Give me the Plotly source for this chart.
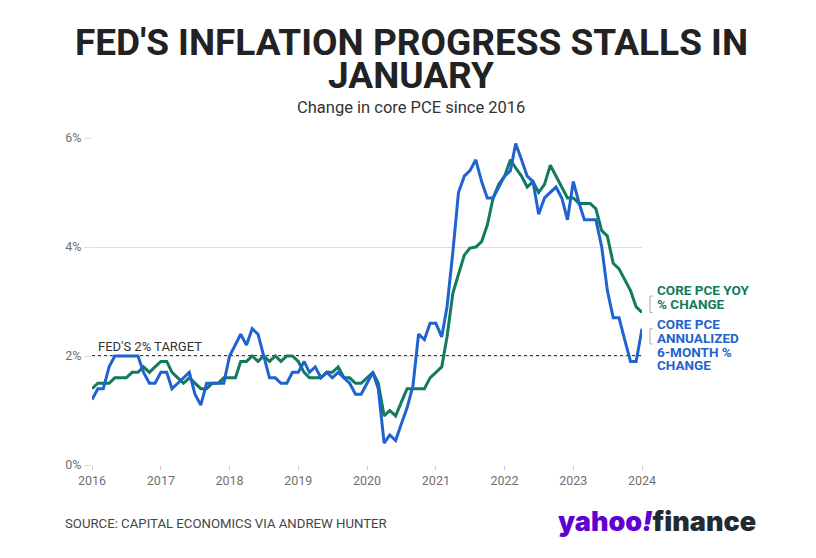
import pandas as pd
import plotly.graph_objects as go

# ---------------- data ----------------
months = pd.date_range("2016-01-01", periods=97, freq="MS")

core_pce_yoy = [
    1.4, 1.5, 1.5, 1.5, 1.6, 1.6, 1.6, 1.7, 1.7, 1.8, 1.7, 1.8,   # 2016
    1.9, 1.9, 1.7, 1.6, 1.5, 1.6, 1.5, 1.4, 1.4, 1.5, 1.5, 1.6,   # 2017
    1.6, 1.6, 1.9, 1.9, 2.0, 1.9, 2.0, 1.9, 2.0, 1.9, 2.0, 2.0,   # 2018
    1.9, 1.7, 1.6, 1.6, 1.6, 1.7, 1.7, 1.8, 1.6, 1.6, 1.5, 1.5,   # 2019
    1.6, 1.7, 1.5, 0.9, 1.0, 0.9, 1.15, 1.4, 1.4, 1.4, 1.4, 1.6,  # 2020
    1.7, 1.8, 2.35, 3.15, 3.5, 3.85, 3.98, 4.0, 4.1, 4.4, 4.9, 5.15,  # 2021
    5.3, 5.6, 5.45, 5.3, 5.1, 5.2, 5.0, 5.15, 5.5, 5.3, 5.1, 4.9,  # 2022
    4.9, 4.8, 4.8, 4.8, 4.7, 4.3, 4.2, 3.7, 3.6, 3.4, 3.2, 2.9,   # 2023
    2.8,                                                           # 2024
]

core_pce_6m_ann = [
    1.2, 1.4, 1.4, 1.8, 2.0, 2.0, 2.0, 2.0, 2.0, 1.7, 1.5, 1.5,   # 2016
    1.7, 1.7, 1.4, 1.5, 1.6, 1.7, 1.3, 1.1, 1.5, 1.5, 1.5, 1.5,   # 2017
    2.0, 2.2, 2.4, 2.2, 2.5, 2.4, 2.0, 1.6, 1.6, 1.5, 1.5, 1.7,   # 2018
    1.7, 1.9, 1.7, 1.8, 1.6, 1.7, 1.6, 1.7, 1.6, 1.5, 1.3, 1.3,   # 2019
    1.5, 1.7, 1.4, 0.4, 0.55, 0.45, 0.75, 1.05, 1.45, 2.4, 2.3, 2.6,  # 2020
    2.6, 2.35, 2.9, 3.9, 5.0, 5.3, 5.4, 5.6, 5.2, 4.9, 4.9, 5.1,  # 2021
    5.3, 5.4, 5.9, 5.6, 5.3, 5.2, 4.6, 4.9, 5.0, 5.1, 4.9, 4.5,   # 2022
    5.2, 4.8, 4.5, 4.5, 4.5, 4.0, 3.2, 2.7, 2.7, 2.3, 1.9, 1.9,   # 2023
    2.5,                                                           # 2024
]

fed_target = 2.0
y_ticks = [0, 2, 4, 6]
y_tick_labels = ["0%", "2%", "4%", "6%"]
x_tick_years = list(range(2016, 2025))

title_lines = ["FED'S INFLATION PROGRESS STALLS IN", "JANUARY"]
subtitle = "Change in core PCE since 2016"
yoy_label = ["CORE PCE YOY", "% CHANGE"]
ann_label = ["CORE PCE", "ANNUALIZED", "6-MONTH %", "CHANGE"]
target_label = "FED'S 2% TARGET"
source = "SOURCE: CAPITAL ECONOMICS VIA ANDREW HUNTER"

# ---------------- style ----------------
GREEN = "#137a5c"
BLUE = "#1f63d0"
FONT = "Roboto, Liberation Sans, sans-serif"

OFF = 8                      # page body margin offset
W, H = 816 - OFF, 558 - OFF
PL, PR, PT, PB = 92, 642, 138, 465      # plot box in screen pixels
L, T = PL - OFF, PT - OFF
PW, PH = PR - PL, PB - PT
R, B = W - L - PW, H - T - PH


def px(xs):
    return (xs - PL) / PW


def py(ys):
    return (PB - ys) / PH


fig = go.Figure()
fig.add_trace(go.Scatter(x=months, y=core_pce_yoy, mode="lines",
                         line=dict(color=GREEN, width=3), name="yoy",
                         hoverinfo="skip"))
fig.add_trace(go.Scatter(x=months, y=core_pce_6m_ann, mode="lines",
                         line=dict(color=BLUE, width=3), name="6m",
                         hoverinfo="skip"))

# Fed target line
fig.add_shape(type="line", xref="paper", x0=0, x1=1, yref="y",
              y0=fed_target, y1=fed_target,
              line=dict(color="#333333", width=1.8, dash="dot"), layer="below")

annotations = []
annotations.append(dict(text=target_label, xref="paper", x=px(96), yref="y",
                        y=fed_target, yanchor="bottom", xanchor="left", yshift=0,
                        showarrow=False,
                        font=dict(family=FONT, size=13, color="#333333")))

# title
for i, (t, yy) in enumerate(zip(title_lines, [43, 76])):
    annotations.append(dict(text=t, xref="paper", yref="paper",
                            x=px(411), y=py(yy), xanchor="center", yanchor="middle",
                            showarrow=False,
                            font=dict(family=FONT, size=37, color="#222222", weight=700)))
annotations.append(dict(text=subtitle, xref="paper", yref="paper",
                        x=px(411), y=py(107), xanchor="center", yanchor="middle",
                        showarrow=False,
                        font=dict(family=FONT, size=16.5, color="#333333")))

# series labels
for i, t in enumerate(yoy_label):
    annotations.append(dict(text=t, xref="paper", yref="paper",
                            x=px(655), y=py(290 + 14 * i), xanchor="left", yanchor="middle",
                            showarrow=False,
                            font=dict(family=FONT, size=13.5, color=GREEN, weight=700)))
for i, t in enumerate(ann_label):
    annotations.append(dict(text=t, xref="paper", yref="paper",
                            x=px(655), y=py(324 + 13.8 * i), xanchor="left", yanchor="middle",
                            showarrow=False,
                            font=dict(family=FONT, size=13.5, color=BLUE, weight=700)))


# brackets near line ends
def bracket(y_top, y_bot):
    xa, xb = px(650), px(652.5)
    for (x0, y0, x1, y1) in [(xa, y_top, xa, y_bot), (xa, y_top, xb, y_top), (xa, y_bot, xb, y_bot)]:
        fig.add_shape(type="line", xref="paper", yref="y", x0=x0, x1=x1, y0=y0, y1=y1,
                      line=dict(color="#aaaaaa", width=1))


bracket(core_pce_yoy[-1] + 0.3, core_pce_yoy[-1])
bracket(core_pce_6m_ann[-1], core_pce_6m_ann[-1] - 0.28)

# source + logo
annotations.append(dict(text=source, xref="paper", yref="paper",
                        x=px(63), y=py(523), xanchor="left", yanchor="middle",
                        showarrow=False,
                        font=dict(family=FONT, size=13.2, color="#444444")))
annotations.append(dict(text="<span style='color:#6001d2'>yahoo<i>!</i></span><span style='color:#232a31'>finance</span>",
                        xref="paper", yref="paper",
                        x=px(556), y=py(521), xanchor="left", yanchor="middle",
                        showarrow=False,
                        font=dict(family="Inter, Roboto, sans-serif", size=27, weight=900)))

fig.update_layout(
    width=W, height=H,
    margin=dict(l=L, r=R, t=T, b=B, pad=0),
    paper_bgcolor="white", plot_bgcolor="white",
    showlegend=False,
    annotations=annotations,
    xaxis=dict(
        range=[pd.Timestamp(f"{x_tick_years[0]}-01-01"), pd.Timestamp(f"{x_tick_years[-1]}-01-01")],
        tickvals=[pd.Timestamp(f"{y}-01-01") for y in x_tick_years],
        ticktext=[str(y) for y in x_tick_years],
        showgrid=False, zeroline=False,
        showline=False,
        ticks="outside", ticklen=4, tickcolor="#cccccc", tickwidth=1,
        tickfont=dict(family=FONT, size=12.5, color="#707070"),
        fixedrange=True,
    ),
    yaxis=dict(
        range=[0, 6],
        tickvals=y_ticks, ticktext=y_tick_labels,
        showgrid=True, gridcolor="#dddddd", gridwidth=1,
        zeroline=False, showline=False,
        ticks="outside", ticklen=7, tickcolor="#dddddd",
        tickfont=dict(family=FONT, size=12.5, color="#707070"),
        fixedrange=True,
    ),
)

fig.write_html("out.html")
